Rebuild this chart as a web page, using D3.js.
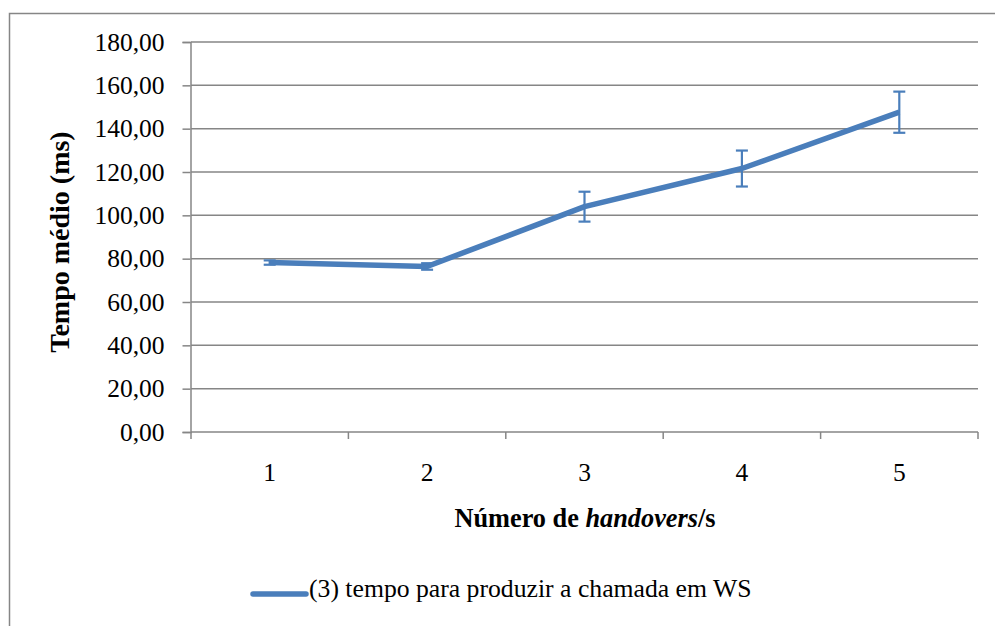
<!DOCTYPE html>
<html><head><meta charset="utf-8">
<script src="https://cdn.jsdelivr.net/npm/d3@7"></script>
<style>body{margin:0;background:#fff}svg{display:block}</style>
</head><body>
<svg id="c" width="995" height="626"></svg>
<script>
const categories = ["1","2","3","4","5"];
const values = [78.2, 76.4, 104.0, 121.6, 147.6];
const errors = [1.0, 1.5, 6.9, 8.3, 9.5];
const yTicks = [0,20,40,60,80,100,120,140,160,180];
const seriesName = "(3) tempo para produzir a chamada em WS";

const FONT = "'Liberation Serif', 'Times New Roman', Times, serif";
const svg = d3.select("#c").style("font-family", FONT);
const m = {l:191, r:978, t:42, b:432};
const x = d3.scaleBand().domain(categories).range([m.l, m.r]);
const y = d3.scaleLinear().domain([0,180]).range([m.b, m.t]);
const fmt = d => d.toFixed(2).replace(".", ",");
const grey = "#868686";
const blue = "#4a7ebb";

// outer frame
svg.append("rect").attr("x",9.5).attr("y",13.5).attr("width",1000).attr("height",700)
  .attr("fill","none").attr("stroke",grey).attr("stroke-width",1.5);

// gridlines
svg.append("g").selectAll("line").data(yTicks.slice(1)).join("line")
  .attr("x1",m.l).attr("x2",m.r).attr("y1",d=>y(d)).attr("y2",d=>y(d))
  .attr("stroke",grey).attr("stroke-width",1.5);

// y axis
const ya = svg.append("g").attr("transform",`translate(${m.l - 0.5},0)`)
  .call(d3.axisLeft(y).tickValues(yTicks).tickFormat(fmt).tickSize(8).tickPadding(18));
ya.attr("font-family", null);
ya.select(".domain").attr("stroke",grey).attr("stroke-width",1.5);
ya.selectAll(".tick line").attr("stroke",grey).attr("stroke-width",1.5);
ya.selectAll("text").style("font-family",FONT).attr("font-size",25.5).attr("fill","#000");

// x axis
const xa = svg.append("g").attr("transform",`translate(0,${m.b})`)
  .call(d3.axisBottom(x).tickSize(0).tickPadding(31));
xa.attr("font-family", null);
xa.select(".domain").attr("stroke",grey).attr("stroke-width",1.5).attr("d",`M${m.l},0H${m.r}`);
xa.selectAll("text").style("font-family",FONT).attr("font-size",25.5).attr("fill","#000");
const bounds = categories.map(c=>x(c)).concat([m.r]);
xa.selectAll(".bnd").data(bounds).join("line").attr("class","bnd")
  .attr("x1",d=>d).attr("x2",d=>d).attr("y1",0).attr("y2",7)
  .attr("stroke",grey).attr("stroke-width",1.5);

const cx = c => x(c) + x.bandwidth()/2;

// line
svg.append("path").datum(values)
  .attr("d", d3.line().x((d,i)=>cx(categories[i])).y(d=>y(d)))
  .attr("fill","none").attr("stroke",blue).attr("stroke-width",5.5).attr("stroke-linejoin","round");

// error bars
const eb = svg.append("g").attr("stroke",blue).attr("stroke-width",2.2);
values.forEach((v,i)=>{
  const xc = cx(categories[i]);
  eb.append("line").attr("x1",xc).attr("x2",xc).attr("y1",y(v+errors[i])).attr("y2",y(v-errors[i]));
  eb.append("line").attr("x1",xc-6).attr("x2",xc+6).attr("y1",y(v+errors[i])).attr("y2",y(v+errors[i]));
  eb.append("line").attr("x1",xc-6).attr("x2",xc+6).attr("y1",y(v-errors[i])).attr("y2",y(v-errors[i]));
});

// axis titles
const xt = svg.append("text").attr("x",585).attr("y",527).attr("text-anchor","middle")
  .style("font-family",FONT).attr("font-size",26.3).attr("font-weight","bold");
xt.append("tspan").text("Número de ");
xt.append("tspan").attr("font-style","italic").text("handovers");
xt.append("tspan").text("/s");

svg.append("text").attr("transform","translate(69,242) rotate(-90)").attr("text-anchor","middle")
  .style("font-family",FONT).attr("font-size",28).attr("font-weight","bold").text("Tempo médio (ms)");

// legend
svg.append("line").attr("x1",253).attr("x2",306).attr("y1",594).attr("y2",594)
  .attr("stroke",blue).attr("stroke-width",5.5).attr("stroke-linecap","round");
svg.append("text").attr("x",309).attr("y",597).style("font-family",FONT).attr("font-size",25.7).text(seriesName);
</script>
</body></html>
